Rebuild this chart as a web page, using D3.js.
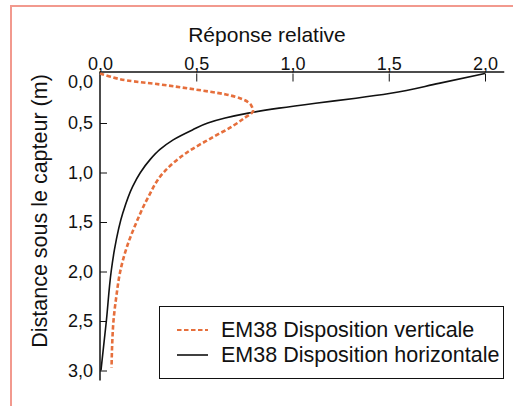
<!DOCTYPE html>
<html>
<head>
<meta charset="utf-8">
<script src="https://cdn.jsdelivr.net/npm/d3@7"></script>
<style>
  body { margin: 0; background: #fff; }
  text { font-family: "Liberation Sans", Arial, sans-serif; fill: #111; }
</style>
</head>
<body>
<script>
// Depth below the sensor (m) and relative response
var depthVert = [0, 0.03, 0.07, 0.11, 0.16, 0.21, 0.26, 0.32, 0.38, 0.45, 0.53, 0.65, 0.8, 1.0, 1.25, 1.5, 1.75, 2.0, 2.25, 2.5, 2.75, 2.97];
var respVert  = [0, 0.05, 0.14, 0.31, 0.49, 0.65, 0.74, 0.785, 0.795, 0.75, 0.69, 0.58, 0.45, 0.33, 0.25, 0.19, 0.14, 0.105, 0.085, 0.07, 0.063, 0.06];

var depthHoriz = [0, 0.1, 0.2, 0.25, 0.3, 0.35, 0.4, 0.45, 0.5, 0.57, 0.67, 0.77, 0.87, 1.0, 1.14, 1.4, 1.78, 2.0, 2.5, 3.0];
var respHoriz  = [2.0, 1.76, 1.51, 1.33, 1.12, 0.93, 0.77, 0.65, 0.56, 0.48, 0.38, 0.31, 0.26, 0.21, 0.17, 0.12, 0.075, 0.058, 0.033, 0.005];

var xTicks = [0, 0.5, 1.0, 1.5, 2.0];
var yTicks = [0, 0.5, 1.0, 1.5, 2.0, 2.5, 3.0];
var xAxisEnd = 2.1;
var yAxisEnd = 3.1;

var seriesNames = ["EM38 Disposition verticale", "EM38 Disposition horizontale"];
var seriesColors = ["#e66f3c", "#111"];

var width = 513, height = 406;
var fmt = function(d) { return d3.format(".1f")(d).replace(".", ","); };

var svg = d3.select("body").append("svg")
  .attr("width", width)
  .attr("height", height);

// frame
svg.append("rect")
  .attr("x", 11).attr("y", 6)
  .attr("width", 540).attr("height", 440)
  .attr("fill", "none")
  .attr("stroke", "#f2998e")
  .attr("stroke-width", 2);

var xScale = d3.scaleLinear().domain([0, 2]).range([100, 485]);
var yScale = d3.scaleLinear().domain([0, 3]).range([73.5, 370.5]);

// axes
var xAxis = d3.axisTop(xScale).tickValues(xTicks).tickFormat(fmt).tickSize(-8).tickPadding(4);
var xGroup = svg.append("g")
  .attr("transform", "translate(0," + yScale(0) + ")")
  .call(xAxis);
xGroup.select(".domain").remove();

var yAxis = d3.axisLeft(yScale).tickValues(yTicks).tickFormat(fmt).tickSize(-7).tickPadding(7);
var yGroup = svg.append("g")
  .attr("transform", "translate(" + xScale(0) + ",0)")
  .call(yAxis);
yGroup.select(".domain").remove();
// the 0,0 label is pushed down so it clears the top axis
yGroup.selectAll(".tick").filter(function(d) { return d === 0; })
  .select("text").attr("dy", "0.75em");
yGroup.selectAll(".tick").filter(function(d) { return d === 0; })
  .select("line").remove();
xGroup.selectAll(".tick").filter(function(d) { return d === 0; })
  .select("line").remove();

svg.selectAll(".tick text").attr("font-size", 18).attr("font-family", "Liberation Sans, Arial, sans-serif").attr("fill", "#111");
svg.selectAll(".tick line").attr("stroke", "#111");

svg.append("line")
  .attr("x1", xScale(0)).attr("x2", xScale(xAxisEnd))
  .attr("y1", yScale(0) - 1.5).attr("y2", yScale(0) - 1.5)
  .attr("stroke", "#111").attr("stroke-width", 1.5);
svg.append("line")
  .attr("x1", xScale(0)).attr("x2", xScale(0))
  .attr("y1", yScale(0) - 2).attr("y2", yScale(yAxisEnd))
  .attr("stroke", "#111").attr("stroke-width", 1.5);

// titles
svg.append("text")
  .attr("x", 267).attr("y", 42)
  .attr("text-anchor", "middle")
  .attr("font-size", 21)
  .text("Réponse relative");

svg.append("text")
  .attr("transform", "translate(47,211) rotate(-90)")
  .attr("text-anchor", "middle")
  .attr("font-size", 21.5)
  .text("Distance sous le capteur (m)");

// curves
var line = d3.line()
  .x(function(d) { return xScale(d[1]); })
  .y(function(d) { return yScale(d[0]); })
  .curve(d3.curveMonotoneY);

svg.append("path")
  .datum(d3.zip(depthHoriz, respHoriz))
  .attr("d", line)
  .attr("fill", "none")
  .attr("stroke", seriesColors[1])
  .attr("stroke-width", 1.6);

svg.append("path")
  .datum(d3.zip(depthVert, respVert))
  .attr("d", line)
  .attr("fill", "none")
  .attr("stroke", seriesColors[0])
  .attr("stroke-width", 2.6)
  .attr("stroke-dasharray", "4.5,2.5");

// legend
var legend = svg.append("g").attr("transform", "translate(159,306)");
legend.append("rect")
  .attr("x", 0.5).attr("y", 0.5)
  .attr("width", 344).attr("height", 72)
  .attr("fill", "#fff")
  .attr("stroke", "#111")
  .attr("stroke-width", 1);

var items = legend.selectAll("g.item")
  .data(seriesNames)
  .enter().append("g")
  .attr("class", "item")
  .attr("transform", function(d, i) { return "translate(0," + (24 + i * 25) + ")"; });

items.append("line")
  .attr("x1", 18).attr("x2", 49)
  .attr("stroke", function(d, i) { return seriesColors[i]; })
  .attr("stroke-width", function(d, i) { return i === 0 ? 2.2 : 1.6; })
  .attr("stroke-dasharray", function(d, i) { return i === 0 ? "4.5,2.5" : null; });

items.append("text")
  .attr("x", 62).attr("y", 7)
  .attr("font-size", 21.5)
  .text(function(d) { return d; });
</script>
</body>
</html>
